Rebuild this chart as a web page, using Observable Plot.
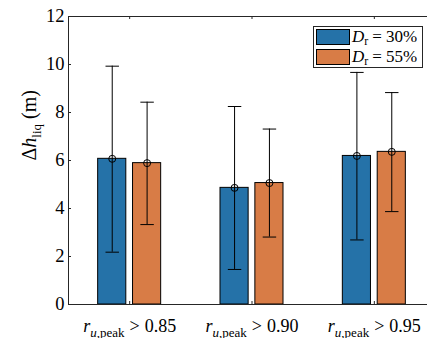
<!DOCTYPE html>
<html><head><meta charset="utf-8">
<script src="https://cdn.jsdelivr.net/npm/d3@7"></script>
<script src="https://cdn.jsdelivr.net/npm/@observablehq/plot@0.6"></script>
<style>
body{margin:0;background:#fff;}
#wrap{position:relative;width:427px;height:338px;overflow:hidden;font-family:"Liberation Serif","Times New Roman","DejaVu Serif",serif;}
#wrap svg text{font-family:"Liberation Serif","Times New Roman","DejaVu Serif",serif !important;}
#legend{position:absolute;left:313px;top:26px;width:110px;height:42px;border:1px solid #262626;background:#fff;box-sizing:border-box;}
.row{position:absolute;left:2px;height:16px;display:flex;align-items:center;font-size:17px;color:#000;white-space:nowrap;}
.sw{width:34px;height:16px;border:1px solid #000;box-sizing:border-box;margin-right:2px;}
.row i{font-style:italic;}
.row sub{font-size:12px;vertical-align:-3px;line-height:0;}
.row .op{padding:0 4px;}
</style></head><body><div id="wrap"></div>
<script>
const groups = ["0.85", "0.90", "0.95"];
const seriesLabels = ["30%", "55%"];
const means30 = [6.07, 4.86, 6.19];
const means55 = [5.89, 5.06, 6.36];
const upper30 = [9.93, 8.25, 9.67];
const lower30 = [2.18, 1.46, 2.69];
const upper55 = [8.43, 7.31, 8.83];
const lower55 = [3.33, 2.81, 3.87];
const yTicks = [0, 2, 4, 6, 8, 10, 12];
const colors = ["#2572a8", "#d87c46"];
const yLabel = "Δh";

const rows = [];
groups.forEach((g, i) => {
  rows.push({g: i + 1, s: seriesLabels[0], k: -1, mean: means30[i], lo: lower30[i], hi: upper30[i]});
  rows.push({g: i + 1, s: seriesLabels[1], k: 1, mean: means55[i], lo: lower55[i], hi: upper55[i]});
});
const off = 0.1425, half = 0.115, cap = 0.055;
const cx = d => d.g + d.k * off;

const W = 427, H = 338, mL = 68, mR = -8, mT = 16, mB = 34;
const innerW = W - mR - mL, innerH = H - mT - mB;
const axisColor = "#262626";
const serif = '"Liberation Serif", "Times New Roman", "DejaVu Serif", serif';

const chart = Plot.plot({
  width: W, height: H,
  marginLeft: mL, marginRight: mR, marginTop: mT, marginBottom: mB,
  x: {domain: [0.5, 3.5], axis: null},
  y: {domain: [0, 12], axis: null},
  color: {domain: seriesLabels, range: colors},
  style: {fontFamily: serif, background: "#fff", color: "#000", overflow: "visible"},
  marks: [
    Plot.rect(rows, {x1: d => cx(d) - half, x2: d => cx(d) + half, y1: 0, y2: "mean", fill: "s", stroke: "#000", strokeWidth: 1}),
    Plot.ruleX(rows, {x: cx, y1: "lo", y2: "hi", stroke: "#000", strokeWidth: 1}),
    Plot.link(rows, {x1: d => cx(d) - cap, x2: d => cx(d) + cap, y1: "hi", y2: "hi", stroke: "#000", strokeWidth: 1}),
    Plot.link(rows, {x1: d => cx(d) - cap, x2: d => cx(d) + cap, y1: "lo", y2: "lo", stroke: "#000", strokeWidth: 1}),
    Plot.dot(rows, {x: cx, y: "mean", r: 3.5, stroke: "#000", fill: "none", strokeWidth: 1}),
    Plot.frame({stroke: axisColor, strokeWidth: 1}),
    Plot.tickY(yTicks, {y: d => d, stroke: axisColor, insetRight: innerW - 3}),
    Plot.tickX(groups, {x: (d, i) => i + 1, stroke: axisColor, insetTop: innerH - 3}),
    Plot.tickX(groups, {x: (d, i) => i + 1, stroke: axisColor, insetBottom: innerH - 3}),
    Plot.text(yTicks, {y: d => d, text: d => String(d), frameAnchor: "left", textAnchor: "end", dx: -4, fontSize: 18.5, fill: "#000", fontFamily: serif}),
    Plot.text(groups, {x: (d, i) => i + 1, text: d => d, frameAnchor: "bottom", lineAnchor: "bottom", dy: 27, fontSize: 18, fill: "#000", fontFamily: serif}),
    Plot.text([yLabel], {text: d => d, frameAnchor: "left", lineAnchor: "bottom", rotate: -90, dx: -33, fontSize: 20, fill: "#000", fontFamily: serif})
  ]
});

// math-style labels with sub/italic spans
chart.querySelectorAll("text").forEach(t => {
  const v = t.textContent;
  if (groups.includes(v)) {
    t.innerHTML = `<tspan font-style="italic">r</tspan><tspan font-size="13" dy="5"><tspan font-style="italic">u</tspan>,peak</tspan><tspan dy="-5" dx="5">&gt;</tspan><tspan dx="5">${v}</tspan>`;
  } else if (v === yLabel) {
    t.innerHTML = `<tspan>Δ</tspan><tspan font-style="italic">h</tspan><tspan font-size="13" dy="5">liq</tspan><tspan dy="-5" dx="5">(m)</tspan>`;
  }
});

const wrap = document.getElementById("wrap");
wrap.appendChild(chart);

const legend = document.createElement("div");
legend.id = "legend";
seriesLabels.forEach((s, i) => {
  const row = document.createElement("div");
  row.className = "row";
  row.style.top = (i === 0 ? 2 : 22) + "px";
  row.innerHTML = `<span class="sw" style="background:${colors[i]}"></span><span><i>D</i><sub>r</sub><span class="op">=</span>${s}</span>`;
  legend.appendChild(row);
});
wrap.appendChild(legend);
</script>
</body></html>
